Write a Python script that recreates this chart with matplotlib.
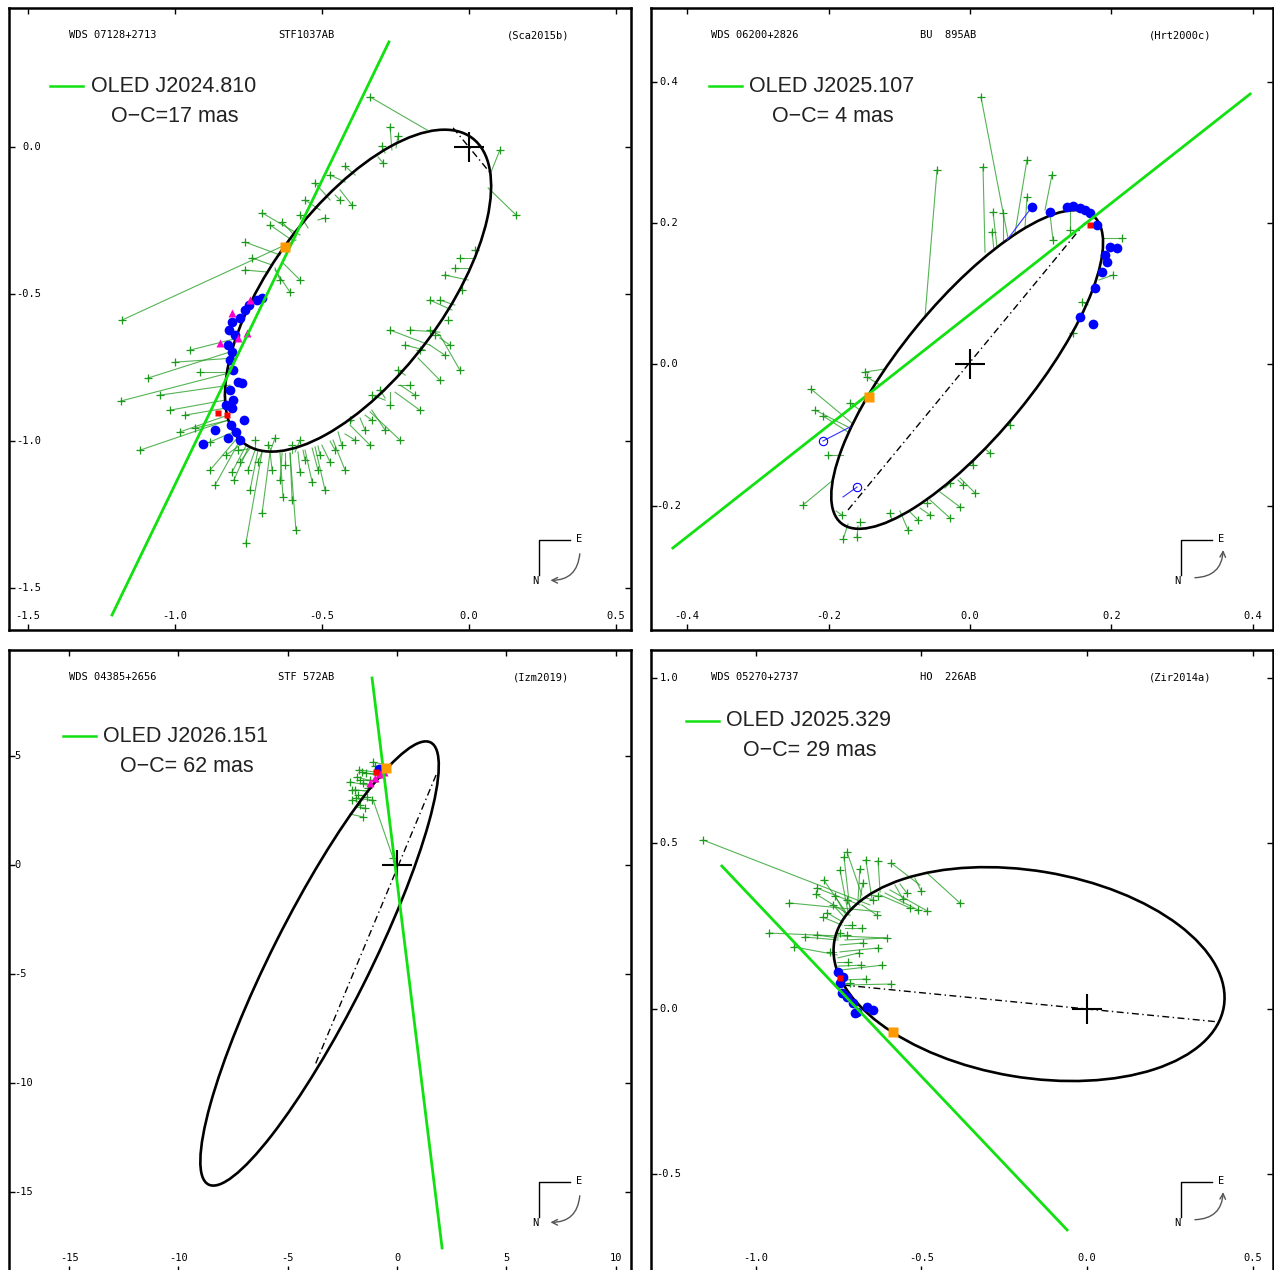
import numpy as np
import matplotlib.pyplot as plt
from matplotlib.patches import Ellipse

plt.rcParams['font.family'] = ['DejaVu Sans Mono']

# ---------------- panel 1 : WDS 07128+2713 STF1037AB
p1_head = ['WDS 07128+2713', 'STF1037AB', '(Sca2015b)']
p1_oled = ['OLED J2024.810', 'O\u2212C=17 mas']
p1_xlim, p1_ylim = (-1.563, 0.5505), (-1.641, 0.4723)
p1_xticks = [-1.5, -1.0, -0.5, 0.0, 0.5]
p1_yticks = [0.0, -0.5, -1.0, -1.5]
p1_orbit = [(-0.377, -0.488), 1.295, 0.581, 53.2]   # centre, width, height, angle
p1_apsides_x = [-0.054, 0.078]
p1_apsides_y = [0.065, -0.095]
p1_line_x = [-1.213, -0.272]
p1_line_y = [-1.590, 0.357]
p1_obs_x = [-0.336, -0.268, -0.241, -0.296, -0.292, -0.421, 0.105, 0.160, -1.179, -1.183,
            -1.118, -1.091, -1.050, -0.965, -0.948, -0.999, -0.914, -1.016, -0.931, -0.880,
            -0.982, -0.863, -0.880, -0.805, -0.758, -0.703, -0.588, -0.632, -0.744, -0.778,
            -0.669, -0.574, -0.533, -0.489, -0.472, -0.421, -0.703, -0.574, -0.523, -0.438,
            -0.398, -0.489, -0.635, -0.761, -0.737, -0.608, -0.574, -0.099, -0.200, -0.302,
            -0.330, -0.404, -0.432, -0.099, -0.133, -0.048, -0.031, -0.024, -0.133, -0.217,
            -0.268, -0.200, -0.082, -0.234, -0.167, -0.336, -0.574, -0.659, -0.727, -0.031,
            0.020, -0.082,
            -0.785, -0.717, -0.683, -0.625, -0.601, -0.557, -0.513, -0.826, -0.799, -0.642,
            -0.506, -0.455, -0.387, -0.751, -0.601, -0.330, -0.268, -0.241, -0.167, -0.116,
            -0.071, -0.353, -0.285, -0.183, -0.065, -0.676, -0.557, -0.472, -0.761, -0.642]
p1_obs_y = [0.170, 0.068, 0.037, 0.003, -0.054, -0.065, -0.010, -0.231, -0.588, -0.863,
            -1.030, -0.785, -0.843, -0.911, -0.690, -0.731, -0.765, -0.894, -0.955, -1.002,
            -0.968, -1.149, -1.098, -1.104, -1.346, -1.244, -1.301, -1.189, -1.166, -1.070,
            -1.098, -1.104, -1.138, -1.166, -1.070, -1.098, -0.224, -0.231, -0.122, -0.180,
            -0.197, -0.241, -0.255, -0.323, -0.377, -0.493, -0.452, -0.792, -0.809, -0.826,
            -0.928, -0.928, -1.013, -0.520, -0.520, -0.411, -0.377, -0.486, -0.622, -0.673,
            -0.622, -0.622, -0.707, -0.996, -0.894, -1.013, -0.996, -0.989, -0.996, -0.758,
            -0.350, -0.435,
            -1.030, -1.070, -1.013, -1.081, -1.013, -1.064, -1.098, -1.047, -1.132, -1.132,
            -1.047, -1.030, -0.996, -1.098, -1.200, -0.843, -0.877, -0.758, -0.690, -0.639,
            -0.588, -0.962, -0.962, -0.843, -0.673, -0.265, -0.180, -0.095, -0.418, -0.452]
p1_calc_x = [-0.143, -0.262, -0.248, -0.285, -0.309, -0.387, 0.071, 0.065, -0.588, -0.805,
             -0.819, -0.792, -0.812, -0.826, -0.785, -0.799, -0.812, -0.829, -0.816, -0.799,
             -0.819, -0.778, -0.788, -0.758, -0.703, -0.676, -0.608, -0.642, -0.717, -0.744,
             -0.676, -0.581, -0.557, -0.523, -0.500, -0.462, -0.574, -0.547, -0.472, -0.455,
             -0.438, -0.513, -0.588, -0.642, -0.669, -0.659, -0.635, -0.173, -0.241, -0.285,
             -0.353, -0.398, -0.445, -0.048, -0.058, 0.003, 0.020, -0.024, -0.099, -0.150,
             -0.133, -0.099, -0.133, -0.336, -0.251, -0.404, -0.591, -0.676, -0.727, -0.099,
             0.031, -0.003,
             -0.751, -0.703, -0.669, -0.625, -0.601, -0.564, -0.533, -0.778, -0.751, -0.635,
             -0.513, -0.472, -0.421, -0.727, -0.608, -0.285, -0.268, -0.217, -0.150, -0.099,
             -0.058, -0.370, -0.330, -0.234, -0.099, -0.598, -0.506, -0.421, -0.683, -0.659]
p1_calc_y = [0.058, -0.010, -0.003, -0.020, -0.034, -0.095, -0.095, -0.139, -0.316, -0.765,
             -0.928, -0.690, -0.809, -0.887, -0.649, -0.717, -0.765, -0.860, -0.928, -0.968,
             -0.911, -0.996, -0.989, -1.016, -1.036, -1.036, -1.040, -1.040, -1.030, -1.023,
             -1.036, -1.036, -1.030, -1.019, -1.013, -0.996, -0.299, -0.275, -0.180, -0.163,
             -0.146, -0.248, -0.306, -0.367, -0.401, -0.418, -0.391, -0.717, -0.809, -0.853,
             -0.911, -0.934, -0.968, -0.537, -0.554, -0.411, -0.377, -0.493, -0.639, -0.690,
             -0.673, -0.629, -0.673, -0.900, -0.833, -0.945, -1.036, -1.036, -1.030, -0.639,
             -0.350, -0.452,
             -1.026, -1.036, -1.036, -1.040, -1.040, -1.030, -1.023, -1.013, -1.023, -1.040,
             -1.016, -0.999, -0.975, -1.030, -1.040, -0.860, -0.833, -0.775, -0.690, -0.639,
             -0.588, -0.921, -0.894, -0.809, -0.649, -0.319, -0.214, -0.119, -0.425, -0.411]
p1_speckle_x = [-0.703, -0.720, -0.748, -0.761, -0.778, -0.805, -0.816, -0.795, -0.819, -0.805,
                -0.812, -0.802, -0.785, -0.771, -0.812, -0.802, -0.826, -0.805, -0.765, -0.809,
                -0.792, -0.819, -0.778, -0.904, -0.863]
p1_speckle_y = [-0.513, -0.520, -0.537, -0.554, -0.581, -0.595, -0.622, -0.639, -0.673, -0.697,
                -0.724, -0.758, -0.799, -0.802, -0.826, -0.860, -0.877, -0.887, -0.928, -0.945,
                -0.968, -0.989, -0.996, -1.009, -0.962]
p1_tri_x = [-0.805, -0.744, -0.846, -0.754, -0.785]
p1_tri_y = [-0.564, -0.520, -0.666, -0.632, -0.649]
p1_red_x, p1_red_y = [-0.853, -0.822], [-0.904, -0.911]
p1_now = (-0.625, -0.340)

# ---------------- panel 2 : WDS 06200+2826 BU 895AB
p2_head = ['WDS 06200+2826', 'BU  895AB', '(Hrt2000c)']
p2_oled = ['OLED J2025.107', 'O\u2212C= 4 mas']
p2_xlim, p2_ylim = (-0.4509, 0.4283), (-0.3755, 0.5042)
p2_xticks = [-0.4, -0.2, 0.0, 0.2, 0.4]
p2_yticks = [0.4, 0.2, 0.0, -0.2]
p2_orbit = [(-0.004, -0.007), 0.562, 0.187, 50.7]
p2_apsides_x = [-0.1724, 0.1625]
p2_apsides_y = [-0.2057, 0.2001]
p2_line_x = [-0.420, 0.396]
p2_line_y = [-0.2595, 0.3826]
p2_obs_x = [-0.0466, 0.0184, 0.0155, 0.0806, 0.1159, 0.0325, 0.0466, 0.0806, 0.0311, 0.1173,
            0.1413, 0.2148, 0.2021, 0.1583, 0.1456, -0.1484, -0.1456, -0.2247, -0.2191, -0.2078,
            -0.1696, -0.2007, -0.2360, 0.0565, 0.0283, 0.0042, -0.0099, 0.0071, -0.0283, -0.0141,
            -0.0283, -0.0608, -0.0565, -0.0735, -0.0876, -0.1131, -0.1555, -0.1597, -0.1809, -0.1795]
p2_obs_y = [0.2751, 0.2794, 0.3784, 0.2893, 0.2681, 0.2157, 0.2143, 0.2369, 0.1874, 0.1761,
            0.1902, 0.1789, 0.1266, 0.0884, 0.0446, -0.0106, -0.0177, -0.0347, -0.0644, -0.0728,
            -0.0545, -0.1280, -0.1987, -0.0856, -0.1252, -0.1421, -0.1704, -0.1817, -0.1676, -0.2016,
            -0.2171, -0.1959, -0.2129, -0.2199, -0.2341, -0.2100, -0.2228, -0.2440, -0.2129, -0.2475]
p2_calc_x = [-0.0636, 0.0212, 0.0537, 0.0636, 0.1060, 0.0382, 0.0466, 0.0777, 0.0339, 0.1131,
             0.1413, 0.1880, 0.1823, 0.1668, 0.1456, -0.1202, -0.1272, -0.1654, -0.1696, -0.1724,
             -0.1555, -0.1795, -0.1936, 0.0523, 0.0212, 0.0028, -0.0170, -0.0141, -0.0353, -0.0424,
             -0.0565, -0.0636, -0.0707, -0.0848, -0.0990, -0.1102, -0.1484, -0.1583, -0.1894, -0.1724]
p2_calc_y = [0.0672, 0.1591, 0.1789, 0.1860, 0.2185, 0.1662, 0.1733, 0.1931, 0.1619, 0.2129,
             0.2171, 0.1789, 0.1195, 0.0842, 0.0488, -0.0064, -0.0290, -0.0842, -0.0898, -0.0955,
             -0.0644, -0.1280, -0.1634, -0.0842, -0.1195, -0.1393, -0.1634, -0.1605, -0.1747, -0.1803,
             -0.1916, -0.1959, -0.2030, -0.2086, -0.2072, -0.2199, -0.2228, -0.2284, -0.2072, -0.2256]
p2_speckle_x = [0.0876, 0.1131, 0.1371, 0.1456, 0.1555, 0.1625, 0.1696, 0.1795, 0.2078, 0.1979,
                0.1908, 0.1936, 0.1866, 0.1767, 0.1555, 0.1738]
p2_speckle_y = [0.2228, 0.2157, 0.2228, 0.2242, 0.2214, 0.2185, 0.2143, 0.1973, 0.1648, 0.1662,
                0.1549, 0.1450, 0.1308, 0.1082, 0.0672, 0.0573]
p2_open_x, p2_open_y = [-0.2078, -0.1597], [-0.1082, -0.1733]
p2_link_x, p2_link_y = [0.0876, -0.2078, -0.1597], [0.2228, -0.1082, -0.1733]
p2_link_cx, p2_link_cy = [0.0523, -0.1696, -0.1795], [0.1761, -0.0884, -0.1874]
p2_red_x, p2_red_y = [0.1696], [0.1973]
p2_now = (-0.1428, -0.0460)

# ---------------- panel 3 : WDS 04385+2656 STF 572AB
p3_head = ['WDS 04385+2656', 'STF 572AB', '(Izm2019)']
p3_oled = ['OLED J2026.151', 'O\u2212C= 62 mas']
p3_xlim, p3_ylim = (-17.75, 10.70), (-18.67, 9.862)
p3_xticks = [-15, -10, -5, 0, 5, 10]
p3_yticks = [5, 0, -5, -10, -15]
p3_orbit = [(-3.545, -4.518), 22.68, 4.45, 63.4]
p3_apsides_x = [1.784, -3.751]
p3_apsides_y = [4.128, -9.174]
p3_line_x = [-1.144, 2.06]
p3_line_y = [8.578, -17.57]
p3_obs_x = [-1.098, -1.007, -1.830, -1.556, -1.922, -1.784, -1.373, -1.693, -1.464, -1.556,
            -1.327, -1.235, -0.915, -1.144, -1.601, -2.059, -0.183, -2.150, -1.738,
            -2.059, -1.693, -1.418, -1.876]
p3_obs_y = [4.725, 4.541, 4.037, 3.761, 3.440, 3.211, 3.119, 2.752, 2.615, 2.202,
            3.532, 3.899, 3.991, 2.982, 4.266, 2.982, 0.321, 3.807, 4.358,
            3.440, 3.899, 4.220, 3.073]
p3_calc_x = [-0.320, -0.503, -1.007, -1.144, -1.327, -1.464, -1.510, -1.784, -1.876, -2.150,
             -1.235, -0.961, -0.869, -1.601, -0.824, -1.693, -1.098, -1.144, -0.640,
             -1.327, -0.915, -0.549, -1.556]
p3_calc_y = [4.541, 4.312, 3.807, 3.624, 3.394, 3.211, 3.119, 2.798, 2.661, 2.339,
             3.486, 3.853, 3.991, 3.028, 4.083, 2.890, 2.982, 3.624, 4.220,
             3.394, 3.899, 4.220, 2.982]
p3_speckle_x, p3_speckle_y = [-0.823], [4.404]
p3_tri_x = [-1.235, -1.007, -0.778, -0.595]
p3_tri_y = [3.761, 3.991, 4.174, 4.266]
p3_red_x, p3_red_y = [-0.961], [4.266]
p3_now = (-0.503, 4.449)

# ---------------- panel 4 : WDS 05270+2737 HO 226AB
p4_head = ['WDS 05270+2737', 'HO  226AB', '(Zir2014a)']
p4_oled = ['OLED J2025.329', 'O\u2212C= 29 mas']
p4_xlim, p4_ylim = (-1.317, 0.5619), (-0.796, 1.0831)
p4_xticks = [-1.0, -0.5, 0.0, 0.5]
p4_yticks = [1.0, 0.5, 0.0, -0.5]
p4_orbit = [(-0.175, 0.104), 1.193, 0.624, -9.5]
p4_apsides_x = [-0.737, 0.402]
p4_apsides_y = [0.071, -0.041]
p4_line_x = [-1.103, -0.060]
p4_line_y = [0.4305, -0.669]
p4_obs_x = [-1.160, -0.725, -0.734, -0.668, -0.631, -0.592, -0.746, -0.686, -0.795, -0.677,
            -0.816, -0.819, -0.761, -0.725, -0.646, -0.631, -0.556, -0.544, -0.501, -0.384,
            -0.900, -0.767, -0.785, -0.798, -0.634, -0.535, -0.511, -0.483, -0.961, -0.852,
            -0.816, -0.746, -0.725, -0.680, -0.710, -0.604, -0.885, -0.776, -0.677, -0.631,
            -0.689, -0.722, -0.683, -0.619, -0.668, -0.592, -0.716]
p4_obs_y = [0.509, 0.473, 0.458, 0.449, 0.446, 0.440, 0.418, 0.421, 0.388, 0.379,
            0.364, 0.346, 0.340, 0.328, 0.328, 0.340, 0.331, 0.349, 0.355, 0.319,
            0.319, 0.313, 0.289, 0.276, 0.282, 0.304, 0.298, 0.295, 0.228, 0.216,
            0.222, 0.228, 0.222, 0.243, 0.252, 0.213, 0.186, 0.171, 0.198, 0.183,
            0.168, 0.140, 0.131, 0.131, 0.089, 0.074, 0.077]
p4_calc_x = [-0.656, -0.680, -0.716, -0.650, -0.625, -0.505, -0.722, -0.692, -0.722, -0.686,
             -0.686, -0.716, -0.728, -0.710, -0.668, -0.656, -0.580, -0.565, -0.520, -0.483,
             -0.625, -0.731, -0.737, -0.740, -0.680, -0.625, -0.610, -0.595, -0.604, -0.752,
             -0.752, -0.752, -0.740, -0.731, -0.734, -0.731, -0.755, -0.758, -0.746, -0.746,
             -0.752, -0.755, -0.752, -0.746, -0.740, -0.731, -0.740]
p4_calc_y = [0.313, 0.343, 0.298, 0.334, 0.352, 0.373, 0.292, 0.322, 0.282, 0.328,
             0.313, 0.282, 0.282, 0.298, 0.334, 0.343, 0.373, 0.376, 0.394, 0.409,
             0.292, 0.273, 0.261, 0.252, 0.313, 0.343, 0.349, 0.358, 0.213, 0.207,
             0.213, 0.222, 0.222, 0.243, 0.252, 0.207, 0.162, 0.171, 0.192, 0.171,
             0.153, 0.140, 0.128, 0.116, 0.086, 0.071, 0.077]
p4_speckle_x = [-0.752, -0.737, -0.746, -0.740, -0.725, -0.707, -0.695, -0.665, -0.646, -0.701]
p4_speckle_y = [0.110, 0.095, 0.077, 0.047, 0.035, 0.017, -0.011, 0.005, -0.005, -0.014]
p4_red_x, p4_red_y = [-0.746], [0.092]
p4_now = (-0.586, -0.071)

W, H = 1274, 1270
GREEN = '#1c9a1c'
OLED_GREEN = '#11e011'
fig = plt.figure(figsize=(W / 100, H / 100), dpi=100)


def make_axes(left, top, size=622):
    # boxes are placed in pixels of the final image
    return fig.add_axes([left / W, 1 - (top + size) / H, size / W, size / H])


def frac(px, py):
    # pixel offset from top-left corner of a 622 px box -> axes fraction
    return px / 622, 1 - py / 622


def draw_panel(ax, head, oled, xlim, ylim, xt, yt, orbit, aps_x, aps_y, line_x, line_y,
               ox, oy, cx, cy, sx, sy, now, legend_pos, ylab_mode, arrow_to_n):
    ax.set_xlim(*xlim)
    ax.set_ylim(*ylim)
    ax.set_xticks(xt)
    ax.set_yticks(yt)
    ax.tick_params(direction='in', length=4, width=1, top=True, right=True,
                   labelbottom=False, labelleft=False)
    for s in ax.spines.values():
        s.set_linewidth(1.8)

    # tick labels sit inside the box
    for v in xt:
        ax.annotate('%g' % v if isinstance(v, int) else '%.1f' % v, xy=(v, 0),
                    xycoords=('data', 'axes fraction'), xytext=(0, 10),
                    textcoords='offset points', ha='center', va='center', fontsize=7.5)
    for v in yt:
        lab = '%g' % v if isinstance(v, int) else '%.1f' % v
        if ylab_mode == 'right':
            off, ha = 23, 'right'
        elif ylab_mode == 'left':
            off, ha = 3.6, 'left'
        else:
            off, ha = 13, 'center'
        ax.annotate(lab, xy=(0, v), xycoords=('axes fraction', 'data'), xytext=(off, 0),
                    textcoords='offset points', ha=ha, va='center', fontsize=7.5)

    # header
    ax.text(*frac(60, 27), head[0], transform=ax.transAxes, fontsize=7.5, va='center')
    ax.text(*frac(269, 27), head[1], transform=ax.transAxes, fontsize=7.5, va='center')
    ax.text(*frac(560, 27), head[2], transform=ax.transAxes, fontsize=7.5, va='center',
            ha='right')

    # residual lines then observations
    for i in range(len(ox)):
        ax.plot([ox[i], cx[i]], [oy[i], cy[i]], color=GREEN, lw=0.8, alpha=0.75, zorder=2)
    ax.plot(ox, oy, '+', color=GREEN, ms=5.5, mew=0.9, zorder=2)

    # orbit
    ax.add_patch(Ellipse(orbit[0], orbit[1], orbit[2], angle=orbit[3], fill=False,
                         color='black', lw=1.9, zorder=3))
    ax.plot(aps_x, aps_y, color='black', lw=1.0, dashes=(5, 2.5, 1, 2.5), zorder=3)
    ax.plot([0], [0], '+', color='black', ms=22, mew=1.5, zorder=3)

    ax.plot(sx, sy, 'o', color='#0000ff', ms=7, mec='none', zorder=4)
    ax.plot(line_x, line_y, color=OLED_GREEN, lw=2.0, zorder=5)
    ax.plot(now[0], now[1], 's', color='#ff9900', ms=7, mec='none', zorder=6)

    # legend
    lx0, lx1, ly, tx, cx2, ly2 = legend_pos
    ax.plot([lx0 / 622, lx1 / 622], [1 - ly / 622] * 2, transform=ax.transAxes,
            color=OLED_GREEN, lw=1.8)
    ax.text(*frac(tx, ly), oled[0], transform=ax.transAxes, fontsize=15.5,
            family='Liberation Sans', va='center', color='#222222')
    ax.text(*frac(cx2, ly2), oled[1], transform=ax.transAxes, fontsize=15.5,
            family='Liberation Sans', va='center', ha='center', color='#222222')

    # orientation sign
    ax.plot([0.852, 0.852, 0.902], [0.088, 0.145, 0.145], transform=ax.transAxes,
            color='black', lw=1.0)
    ax.text(0.916, 0.147, 'E', transform=ax.transAxes, fontsize=7.5, ha='center', va='center')
    ax.text(0.847, 0.079, 'N', transform=ax.transAxes, fontsize=7.5, ha='center', va='center')
    if arrow_to_n:
        ax.annotate('', xy=(0.866, 0.080), xytext=(0.918, 0.127), xycoords='axes fraction',
                    arrowprops=dict(arrowstyle='->', color='#555555', lw=1.0,
                                    connectionstyle='arc3,rad=-0.5'))
    else:
        ax.annotate('', xy=(0.920, 0.133), xytext=(0.870, 0.084), xycoords='axes fraction',
                    arrowprops=dict(arrowstyle='->', color='#555555', lw=1.0,
                                    connectionstyle='arc3,rad=0.5'))


ax1 = make_axes(9, 8)
ax2 = make_axes(651, 8)
ax3 = make_axes(9, 650)
ax4 = make_axes(651, 650)

draw_panel(ax1, p1_head, p1_oled, p1_xlim, p1_ylim, p1_xticks, p1_yticks, p1_orbit,
           p1_apsides_x, p1_apsides_y, p1_line_x, p1_line_y, p1_obs_x, p1_obs_y,
           p1_calc_x, p1_calc_y, p1_speckle_x, p1_speckle_y, p1_now,
           (41, 74, 78, 82, 165.5, 108), 'right', True)
ax1.plot(p1_tri_x, p1_tri_y, '^', color='#ff00cc', ms=6, mec='none', zorder=4)
ax1.plot(p1_red_x, p1_red_y, 's', color='#ff0000', ms=5, mec='none', zorder=4)

draw_panel(ax2, p2_head, p2_oled, p2_xlim, p2_ylim, p2_xticks, p2_yticks, p2_orbit,
           p2_apsides_x, p2_apsides_y, p2_line_x, p2_line_y, p2_obs_x, p2_obs_y,
           p2_calc_x, p2_calc_y, p2_speckle_x, p2_speckle_y, p2_now,
           (58, 91, 78, 98, 181.5, 108), 'center', False)
for i in range(len(p2_link_x)):
    ax2.plot([p2_link_x[i], p2_link_cx[i]], [p2_link_y[i], p2_link_cy[i]],
             color='#3333ff', lw=0.8, zorder=3)
ax2.plot(p2_open_x, p2_open_y, 'o', mfc='none', mec='#0000ff', ms=6, mew=0.8, zorder=4)
ax2.plot(p2_red_x, p2_red_y, 's', color='#ff0000', ms=5, mec='none', zorder=4)

draw_panel(ax3, p3_head, p3_oled, p3_xlim, p3_ylim, p3_xticks, p3_yticks, p3_orbit,
           p3_apsides_x, p3_apsides_y, p3_line_x, p3_line_y, p3_obs_x, p3_obs_y,
           p3_calc_x, p3_calc_y, p3_speckle_x, p3_speckle_y, p3_now,
           (54, 87, 86, 94, 177.5, 116), 'left', True)
ax3.plot(p3_tri_x, p3_tri_y, '^', color='#ff00cc', ms=6, mec='none', zorder=4)
ax3.plot(p3_red_x, p3_red_y, 's', color='#ff0000', ms=5, mec='none', zorder=4)

draw_panel(ax4, p4_head, p4_oled, p4_xlim, p4_ylim, p4_xticks, p4_yticks, p4_orbit,
           p4_apsides_x, p4_apsides_y, p4_line_x, p4_line_y, p4_obs_x, p4_obs_y,
           p4_calc_x, p4_calc_y, p4_speckle_x, p4_speckle_y, p4_now,
           (35, 68, 71, 75, 158.5, 101), 'center', False)
ax4.plot(p4_red_x, p4_red_y, 's', color='#ff0000', ms=5, mec='none', zorder=4)

fig.savefig('out.png', dpi=100, facecolor='white')
